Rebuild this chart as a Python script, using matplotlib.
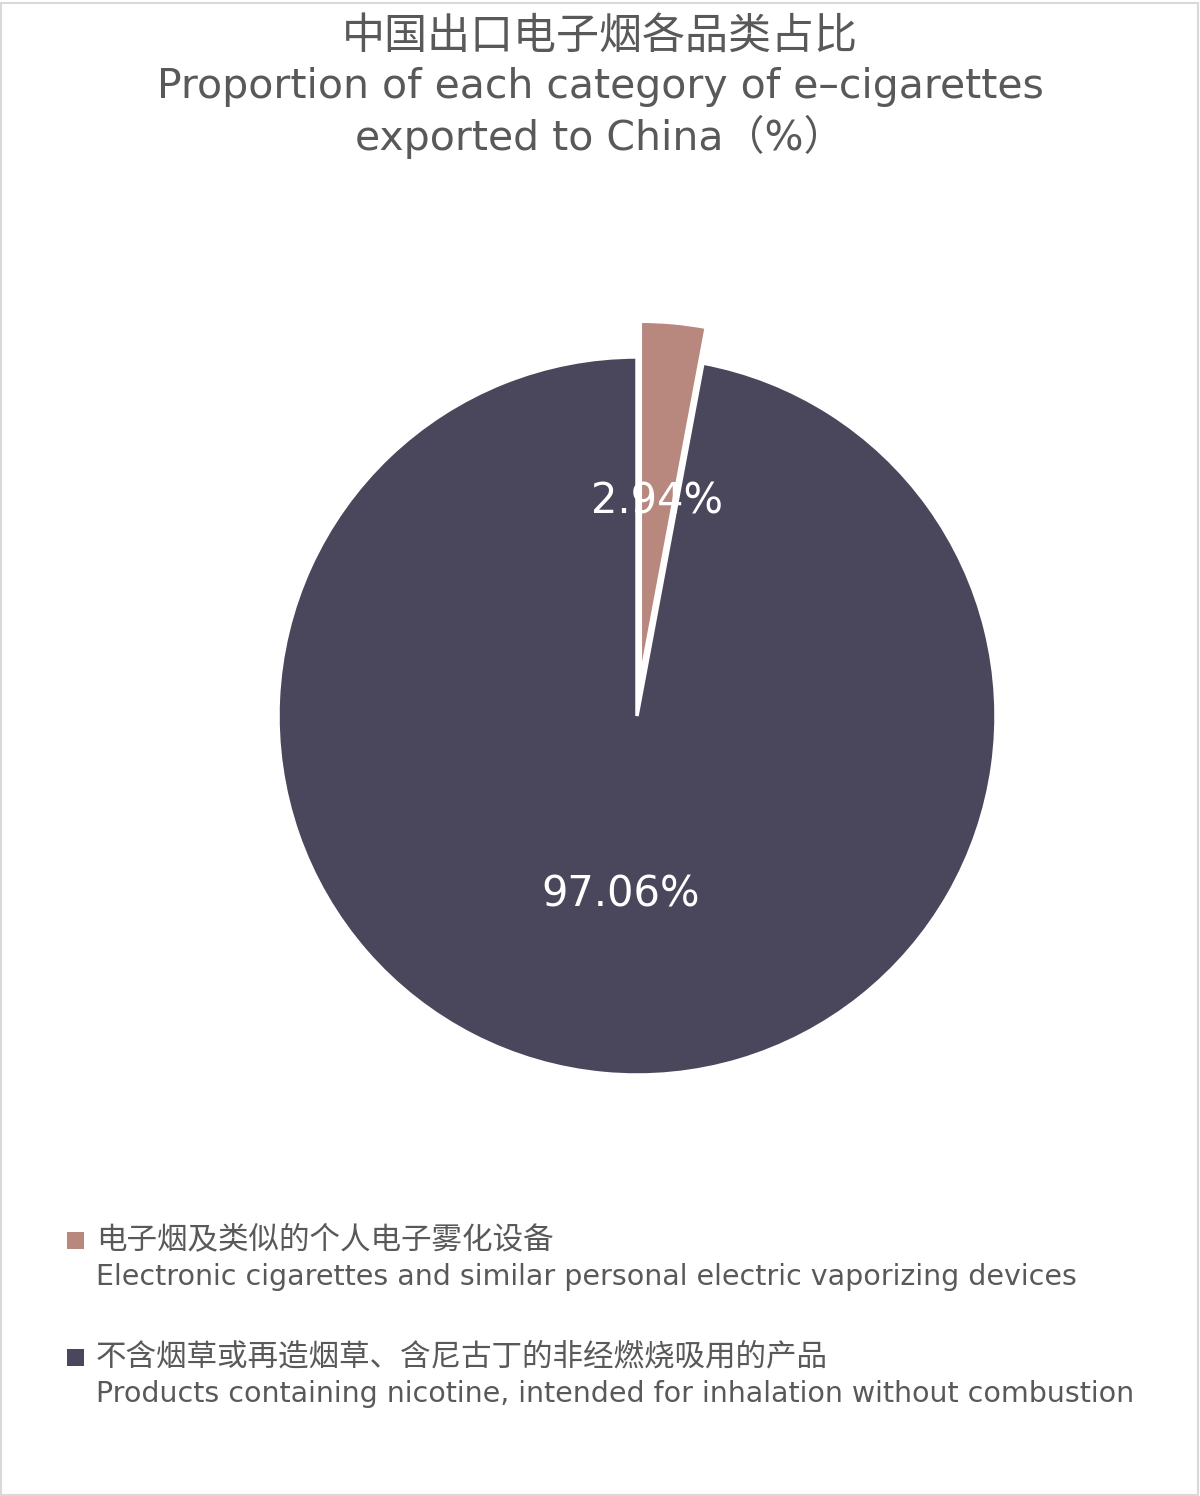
import matplotlib
matplotlib.use('Agg')
import matplotlib.pyplot as plt
from matplotlib.patches import Rectangle

plt.rcParams['font.family'] = ['DejaVu Sans', 'Noto Sans CJK SC']

# data
labels_cn = ['电子烟及类似的个人电子雾化设备',
             '不含烟草或再造烟草、含尼古丁的非经燃烧吸用的产品']
labels_en = ['Electronic cigarettes and similar personal electric vaporizing devices',
             'Products containing nicotine, intended for inhalation without combustion']
values = [2.94, 97.06]
colors = ['#B8877D', '#4A465B']
explode = [0.1, 0]

W, H = 1200, 1496
fig = plt.figure(figsize=(12, 14.96), dpi=100)
fig.patch.set_facecolor('white')
# light border
fig.add_artist(Rectangle((0.001, 0.001), 0.997, 0.997, transform=fig.transFigure,
                         fill=False, edgecolor='#D9D9D9', linewidth=1.5))

txt = '#595959'
fig.text(0.5, 1 - 37 / H, '中国出口电子烟各品类占比', ha='center', va='center',
         fontsize=31, color=txt)
fig.text(0.5, 1 - 87 / H, 'Proportion of each category of e\u2013cigarettes', ha='center',
         va='center', fontsize=29.5, color=txt)
fig.text(0.5, 1 - 137 / H, 'exported to China（%）', ha='center', va='center',
         fontsize=29.5, color=txt)

# pie axes, centre (637,716) radius 359 px
cx, cy, R, half = 637, 716, 359, 420
ax = fig.add_axes([(cx - half) / W, (H - cy - half) / H, 2 * half / W, 2 * half / H])
wedges, texts, autotexts = ax.pie(values, colors=colors, explode=explode, startangle=90,
                                  counterclock=False, autopct='%.2f%%', pctdistance=0.5,
                                  wedgeprops=dict(edgecolor='white', linewidth=2.5),
                                  textprops=dict(color='white', fontsize=30))
lim = half / R
ax.set_xlim(-lim, lim)
ax.set_ylim(-lim, lim)
ax.set_aspect('equal')
ax.axis('off')

# legend
ys = [1240, 1357]
for i in range(len(values)):
    y = ys[i]
    fig.add_artist(Rectangle((67 / W, 1 - (y + 9) / H), 17 / W, 17 / H,
                             transform=fig.transFigure, facecolor=colors[i], edgecolor='none'))
    fig.text(96 / W, 1 - y / H, labels_cn[i], ha='left', va='center', fontsize=22, color=txt)
    fig.text(96 / W, 1 - (y + 37) / H, labels_en[i], ha='left', va='center', fontsize=20.5,
             color=txt)

fig.savefig('out.png', dpi=100, facecolor='white')
